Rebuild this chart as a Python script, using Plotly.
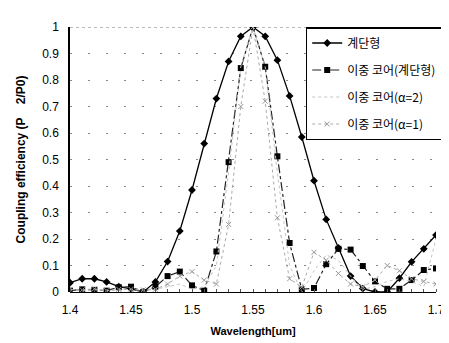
import plotly.graph_objects as go

wavelength = [round(1.40 + 0.01 * i, 2) for i in range(31)]

step = [0.035, 0.05, 0.05, 0.038, 0.02, 0.012, 0.0, 0.038, 0.115, 0.23,
        0.385, 0.56, 0.73, 0.87, 0.965, 1.0, 0.965, 0.875, 0.74, 0.585,
        0.42, 0.274, 0.166, 0.06, 0.013, 0.0, 0.0, 0.052, 0.114, 0.163, 0.215]

dual_step = [0.005, 0.01, 0.008, 0.005, 0.018, 0.02, 0.0, 0.02, 0.06, 0.077,
             0.025, 0.005, 0.153, 0.49, 0.845, 1.0, 0.85, 0.512, 0.185, 0.01,
             0.015, 0.105, 0.163, 0.16, 0.098, 0.04, 0.012, 0.012, 0.045, 0.083, 0.089]

dual_a2 = [0.01, 0.005, 0.01, 0.005, 0.008, 0.01, 0.005, 0.01, 0.02, 0.03,
           0.01, 0.02, 0.1, 0.45, 0.85, 1.0, 0.85, 0.45, 0.1, 0.0,
           0.08, 0.14, 0.12, 0.06, 0.01, 0.02, 0.04, 0.05, 0.04, 0.02, 0.2]

dual_a1 = [0.01, 0.008, 0.012, 0.005, 0.01, 0.01, 0.008, 0.01, 0.03, 0.06,
           0.077, 0.045, 0.03, 0.255, 0.7, 1.0, 0.72, 0.28, 0.05, 0.018,
           0.15, 0.12, 0.07, 0.03, 0.02, 0.045, 0.1, 0.08, 0.05, 0.04, 0.03]

names = ["계단형", "이중 코어(계단형)", "이중 코어(α=2)", "이중 코어(α=1)"]

y_ticks = [0, 0.1, 0.2, 0.3, 0.4, 0.5, 0.6, 0.7, 0.8, 0.9, 1]
y_tick_text = ["0", "0.1", "0.2", "0.3", "0.4", "0.5", "0.6", "0.7", "0.8", "0.9", "1"]
x_ticks = [1.4, 1.45, 1.5, 1.55, 1.6, 1.65, 1.7]
x_tick_text = ["1.4", "1.45", "1.5", "1.55", "1.6", "1.65", "1.7"]

fig = go.Figure()
fig.add_trace(go.Scatter(x=wavelength, y=step, name=names[0], mode="lines+markers",
                         legendgroup="g1",
                         line=dict(color="black", width=1.3),
                         marker=dict(symbol="diamond", size=6, color="black")))
fig.add_trace(go.Scatter(x=wavelength, y=dual_step, name=names[1], mode="lines+markers",
                         legendgroup="g2",
                         line=dict(color="#222", width=1.2, dash="dashdot"),
                         marker=dict(symbol="square", size=6, color="black")))
fig.add_trace(go.Scatter(x=wavelength, y=dual_a2, name=names[2], mode="lines",
                         legendgroup="g3",
                         line=dict(color="#c4c4c4", width=1, dash="dot")))
fig.add_trace(go.Scatter(x=wavelength, y=dual_a1, name=names[3], mode="lines+markers",
                         legendgroup="g4",
                         line=dict(color="#aaaaaa", width=1, dash="dot"),
                         marker=dict(symbol="x-thin-open", size=5, color="#999999",
                                     line=dict(width=1, color="#999999"))))

fig.add_shape(type="line", xref="paper", yref="y", x0=0, x1=1, y0=1, y1=1,
              line=dict(color="#777", width=1, dash="dot"), layer="below")

fig.update_layout(
    width=449, height=343,
    margin=dict(l=60, r=13, t=14, b=59),
    paper_bgcolor="white", plot_bgcolor="white",
    font=dict(family="Liberation Sans, Arial, Noto Sans CJK KR", size=12, color="black"),
    showlegend=True,
    legend=dict(x=0.644, y=1.0, xanchor="left", yanchor="top",
                bgcolor="white", bordercolor="black", borderwidth=1.5,
                font=dict(family="Noto Sans CJK KR", size=12, color="black"),
                tracegroupgap=8, itemwidth=30),
    xaxis=dict(range=[1.4, 1.7], tickvals=x_ticks, ticktext=x_tick_text,
               showgrid=False, zeroline=False, showline=False,
               ticks="", ticklen=0, ticklabelstandoff=9, ticklabeloverflow="allow",
               title=dict(text="<b>Wavelength[um]</b>", font=dict(size=11), standoff=11),
               minor=dict(dtick=0.01, ticks="inside", ticklen=3, tickcolor="#555", showgrid=False)),
    yaxis=dict(range=[0, 1], tickvals=y_ticks, ticktext=y_tick_text,
               showgrid=True, gridcolor="#888", griddash="2px,16px", gridwidth=1,
               zeroline=True, zerolinecolor="black", zerolinewidth=1,
               showline=True, linecolor="black", linewidth=1.5,
               ticks="", ticklen=0, ticklabelstandoff=7,
               title=dict(text="<b>Coupling efficiency (P    2/P0)</b>", font=dict(size=12), standoff=14)),
)

fig.write_html("out.html")
